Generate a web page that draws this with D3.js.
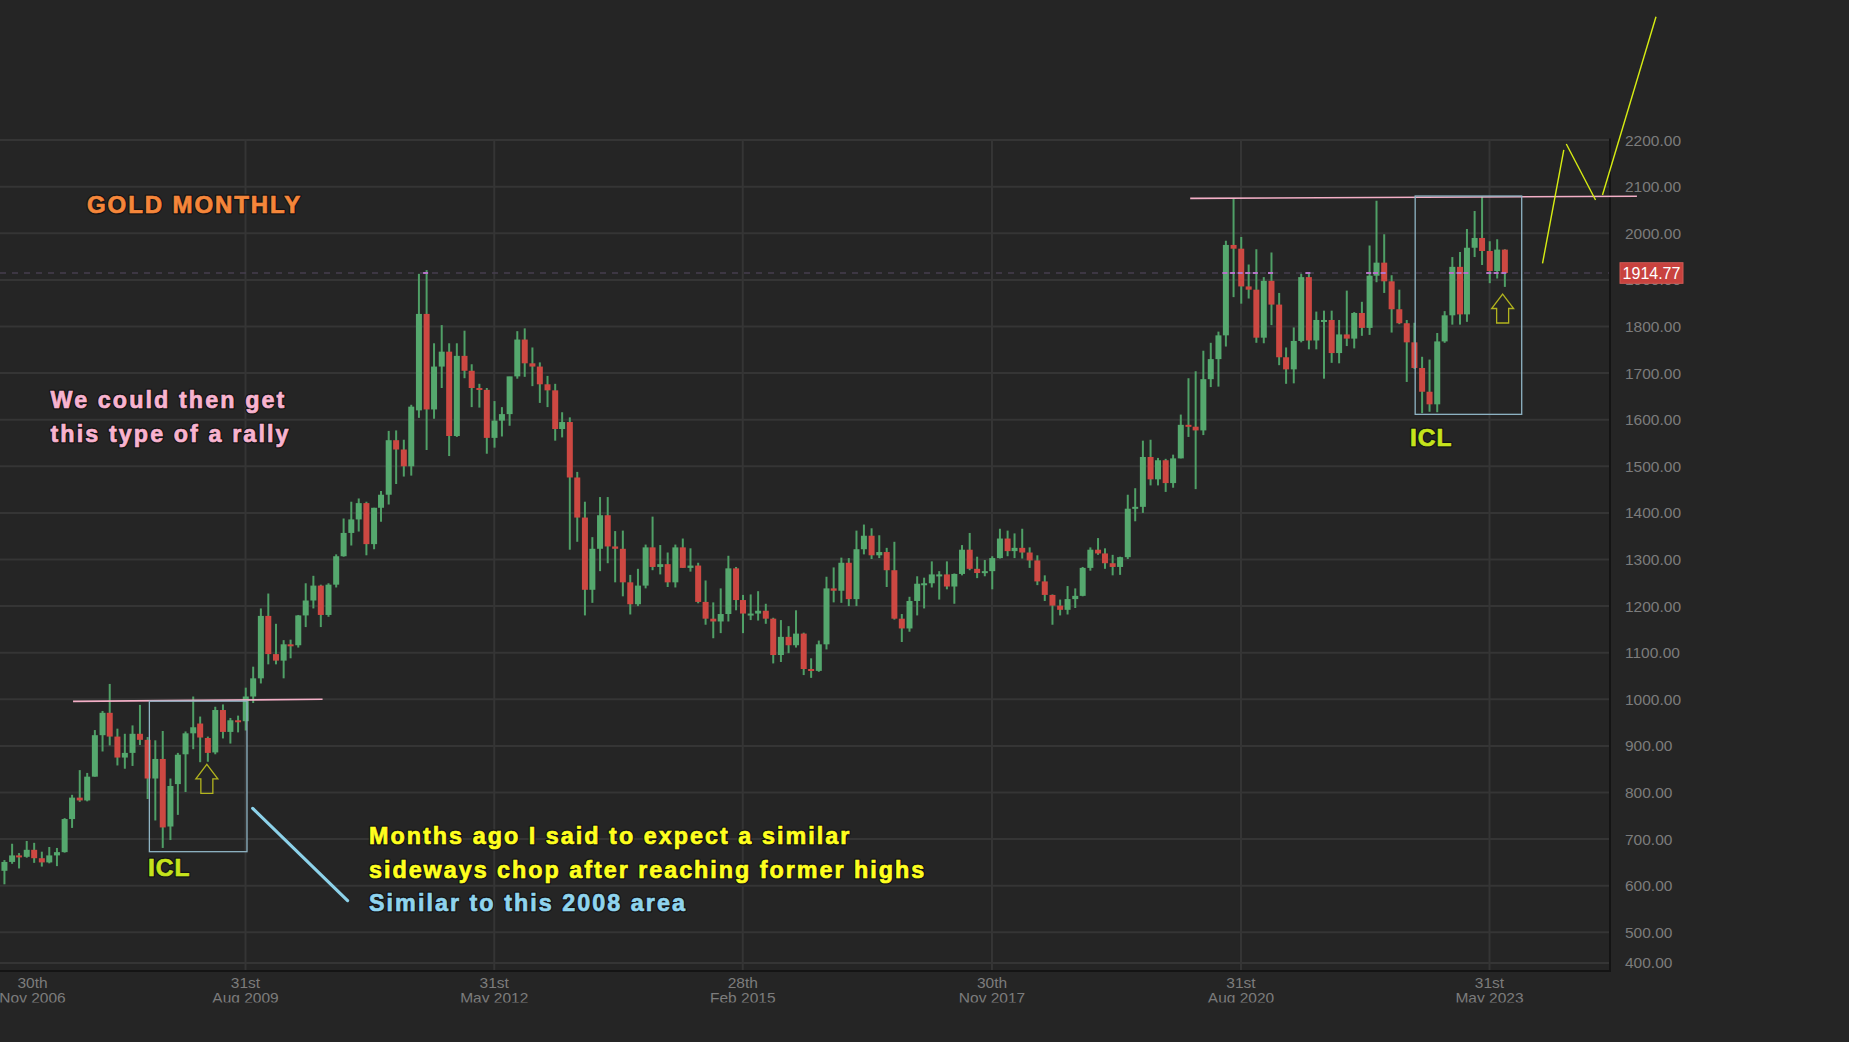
<!DOCTYPE html>
<html><head><meta charset="utf-8">
<script src="https://cdnjs.cloudflare.com/ajax/libs/d3/7.8.5/d3.min.js"></script>
<style>html,body{margin:0;padding:0;background:#252525;overflow:hidden}</style>
</head><body>
<svg id="chart" width="1849" height="1042"></svg>
<script>
// ---------------- DATA (monthly XAU/USD candles, Dec 2006 .. Aug 2023) ----------------
const firstMonth = "2006-12-01";
const opens = [
646,
632,651,665,662,677,659,650,665,672,743,789,783,
834,923,971,920,875,885,926,913,830,872,727,818,
882,927,948,917,886,977,930,955,953,1006,1045,1179,
1097,1083,1118,1116,1180,1212,1244,1181,1246,1307,1357,1386,
1421,1333,1411,1439,1556,1536,1500,1620,1827,1622,1714,1746,
1565,1737,1705,1668,1664,1561,1598,1612,1693,1772,1721,1714,
1676,1663,1580,1595,1476,1390,1235,1323,1395,1328,1323,1251,
1204,1244,1326,1284,1290,1251,1326,1282,1287,1209,1173,1167,
1183,1281,1213,1184,1184,1190,1173,1095,1134,1116,1141,1065,
1061,1118,1238,1233,1293,1215,1322,1351,1309,1316,1277,1173,
1152,1211,1248,1249,1268,1268,1242,1269,1321,1280,1271,1275,
1303,1345,1318,1325,1315,1298,1253,1224,1201,1192,1215,1222,
1282,1321,1313,1292,1284,1305,1409,1413,1520,1472,1513,1464,
1517,1589,1585,1577,1687,1730,1781,1975,1967,1886,1879,1776,
1898,1847,1734,1708,1769,1906,1770,1814,1814,1743,1783,1774,
1829,1797,1909,1937,1897,1837,1807,1766,1711,1660,1633,1768,
1824,1928,1826,1969,1990,1962,1919,1965];
const highs = [
650,
655,690,670,696,692,673,683,681,745,795,848,842,
934,975,1033,937,926,944,988,919,912,932,830,885,
931,1006,963,920,984,989,960,965,1025,1070,1195,1227,
1162,1127,1128,1181,1249,1265,1246,1249,1311,1388,1424,1431,
1424,1411,1447,1576,1577,1557,1632,1913,1921,1764,1803,1764,
1764,1791,1719,1677,1668,1640,1627,1692,1790,1796,1755,1723,
1694,1677,1616,1605,1488,1424,1348,1434,1434,1361,1362,1267,
1280,1332,1392,1331,1315,1332,1345,1324,1293,1255,1208,1238,
1308,1284,1224,1225,1232,1205,1175,1170,1157,1191,1143,1088,
1126,1263,1283,1304,1303,1362,1375,1367,1352,1325,1338,1183,
1220,1264,1261,1296,1275,1296,1270,1331,1357,1306,1299,1307,
1366,1362,1356,1366,1326,1309,1266,1225,1214,1243,1238,1284,
1326,1346,1324,1310,1306,1439,1453,1555,1557,1518,1516,1525,
1611,1689,1704,1748,1765,1789,1984,2075,1992,1933,1966,1906,
1959,1872,1755,1798,1913,1916,1832,1834,1834,1814,1877,1831,
1853,1974,2070,1998,1910,1879,1814,1808,1735,1729,1786,1833,
1949,1960,2009,2048,2079,1983,1987,1966];
const lows = [
613,
603,647,637,660,649,641,648,642,671,724,780,781,
834,888,901,858,851,857,902,786,740,681,698,752,
801,893,865,866,882,916,905,929,933,992,1034,1075,
1075,1045,1088,1111,1155,1195,1155,1177,1240,1306,1330,1360,
1309,1322,1381,1418,1462,1478,1480,1604,1535,1602,1668,1522,
1563,1689,1627,1626,1527,1540,1564,1587,1688,1692,1672,1636,
1627,1555,1562,1321,1338,1180,1207,1275,1292,1251,1221,1182,
1200,1238,1277,1268,1241,1240,1282,1274,1206,1160,1131,1142,
1167,1191,1142,1170,1169,1162,1077,1080,1099,1111,1052,1046,
1059,1107,1208,1207,1200,1200,1311,1301,1303,1241,1171,1123,
1145,1180,1195,1240,1214,1236,1205,1266,1277,1260,1264,1236,
1302,1307,1303,1302,1282,1245,1211,1160,1180,1182,1196,1221,
1276,1310,1280,1266,1267,1301,1382,1400,1459,1459,1445,1454,
1517,1563,1451,1567,1670,1671,1757,1863,1849,1860,1765,1764,
1803,1717,1677,1678,1766,1751,1751,1688,1722,1721,1758,1753,
1780,1782,1895,1872,1787,1805,1681,1709,1614,1617,1616,1765,
1804,1804,1810,1949,1932,1893,1903,1885];
const closes = [
632,
651,665,662,677,659,650,665,672,743,789,783,834,
923,971,920,875,885,926,913,830,872,725,814,881,
927,940,918,885,977,930,955,953,1006,1045,1179,1097,
1083,1118,1116,1180,1212,1244,1181,1246,1307,1357,1386,1421,
1333,1411,1439,1556,1536,1500,1628,1827,1622,1714,1746,1565,
1737,1705,1668,1664,1561,1598,1612,1693,1772,1721,1714,1676,
1663,1580,1595,1476,1390,1235,1323,1395,1328,1323,1251,1204,
1244,1326,1284,1290,1251,1326,1282,1287,1209,1173,1167,1183,
1281,1213,1184,1184,1190,1173,1095,1134,1116,1141,1065,1061,
1118,1238,1233,1293,1215,1322,1351,1309,1316,1277,1173,1152,
1211,1248,1249,1268,1268,1242,1269,1321,1280,1271,1275,1303,
1345,1318,1325,1315,1298,1253,1224,1201,1192,1215,1222,1282,
1321,1313,1292,1284,1305,1409,1413,1520,1472,1513,1464,1517,
1589,1585,1577,1687,1730,1781,1975,1967,1886,1879,1776,1898,
1847,1734,1708,1769,1906,1770,1814,1814,1743,1783,1774,1829,
1797,1909,1937,1897,1837,1807,1766,1711,1660,1633,1768,1824,
1928,1826,1969,1990,1962,1919,1965,1914.77];

const lastPrice = 1914.77;
const yTickValues = [400,500,600,700,800,900,1000,1100,1200,1300,1400,1500,1600,1700,1800,1900,2000,2100,2200];
const xTickDates = ["2006-11-30","2009-08-31","2012-05-31","2015-02-28","2017-11-30","2020-08-31","2023-05-31"];
const xTickDayLabels = ["30th","31st","31st","28th","30th","31st","31st"];
const xTickMonthLabels = ["Nov 2006","Aug 2009","May 2012","Feb 2015","Nov 2017","Aug 2020","May 2023"];

// annotations in data units (date, price)
const resistance2008 = [["2007-10-05", 995.5], ["2010-07-08", 1000]];
const resistance2023 = [["2020-02-08", 2075], ["2025-01-15", 2079.4]];
const iclBox2008 = {from: "2008-08-08", to: "2009-09-06", lo: 673, hi: 996};
const iclBox2023 = {from: "2022-08-04", to: "2023-10-08", lo: 1611.5, hi: 2080};
const arrowTips = [["2009-03-28", 860.5], ["2023-07-23", 1869.7]];
const blueLine = [["2009-09-29", 766], ["2010-10-17", 568]];
const projection = [
  [["2023-12-31", 1935.6], ["2024-03-26", 2178.8]],
  [["2024-04-05", 2191.6], ["2024-08-01", 2071.5]],
  [["2024-08-29", 2082.2], ["2025-04-02", 2464.8]]
];
const iclLabels = [["2008-08-02", 621], ["2022-07-14", 1544]];

// ---------------- LAYOUT ----------------
const W = 1849, H = 1042;
const plotRight = 1610, plotTop = 139.5, plotBottom = 971;
const BG = "#252525", GRID = "#353535", AXIS = "#141414";
const UP = "#55a86e", DOWN = "#cd4842", WICK = "#4f9f66";
const FONT = "'Liberation Sans', Arial, sans-serif";

const svg = d3.select("#chart");
svg.append("rect").attr("width", W).attr("height", H).attr("fill", BG);

const P = d3.utcParse("%Y-%m-%d");
const x = d3.scaleUtc().domain([P("2009-08-31"), P("2023-05-31")]).range([245.5, 1489.5]);
const y = d3.scaleLinear().domain([500, 2200]).range([932.3, 140.1]);
const yPos = v => Math.min(y(v), plotBottom - 8);

const months = d3.utcMonth.range(P(firstMonth), d3.utcMonth.offset(P(firstMonth), opens.length));
const candles = months.map((d, i) => ({date: d, o: opens[i], h: highs[i], l: lows[i], c: closes[i]}));

const defs = svg.append("defs");
defs.append("clipPath").attr("id", "plotClip").append("rect")
  .attr("x", 0).attr("y", plotTop - 1).attr("width", plotRight).attr("height", plotBottom - plotTop + 1);
defs.append("clipPath").attr("id", "yLabClip").append("rect")
  .attr("x", plotRight).attr("y", 136).attr("width", W - plotRight).attr("height", H - 136);
defs.append("clipPath").attr("id", "xLabClip").append("rect")
  .attr("x", 0).attr("y", plotBottom).attr("width", plotRight + 40).attr("height", 31.5);

// ---------------- GRID ----------------
const grid = svg.append("g");
grid.selectAll("line.h").data(yTickValues).join("line")
  .attr("x1", 0).attr("x2", plotRight)
  .attr("y1", d => yPos(d)).attr("y2", d => yPos(d))
  .attr("stroke", GRID).attr("stroke-width", 2);
grid.selectAll("line.v").data(xTickDates).join("line")
  .attr("x1", d => x(P(d))).attr("x2", d => x(P(d)))
  .attr("y1", plotTop).attr("y2", plotBottom)
  .attr("stroke", GRID).attr("stroke-width", 2);

// ---------------- PRICE LINE ----------------
svg.append("line").attr("x1", 0).attr("x2", plotRight)
  .attr("y1", y(lastPrice)).attr("y2", y(lastPrice))
  .attr("stroke", "#463e4e").attr("stroke-width", 1.5).attr("stroke-dasharray", "6,6");

// ---------------- CANDLES ----------------
const bodyW = 6;
const cg = svg.append("g").attr("clip-path", "url(#plotClip)");
cg.selectAll("line.wick").data(candles).join("line")
  .attr("x1", d => x(d.date)).attr("x2", d => x(d.date))
  .attr("y1", d => y(d.h)).attr("y2", d => y(d.l))
  .attr("stroke", WICK).attr("stroke-width", 2);
cg.selectAll("rect.body").data(candles).join("rect")
  .attr("x", d => x(d.date) - bodyW / 2).attr("width", bodyW)
  .attr("y", d => y(Math.max(d.o, d.c)))
  .attr("height", d => Math.max(2, Math.abs(y(d.o) - y(d.c))))
  .attr("fill", d => d.c >= d.o ? UP : DOWN);
cg.selectAll("line.pl").data(candles.filter(d => d.l <= lastPrice && d.h >= lastPrice)).join("line")
  .attr("x1", d => x(d.date) - 3.5).attr("x2", d => x(d.date) + 3.5)
  .attr("y1", y(lastPrice)).attr("y2", y(lastPrice))
  .attr("stroke", "#b673c8").attr("stroke-width", 2).attr("stroke-dasharray", "5,3");

// ---------------- AXES ----------------
svg.append("line").attr("x1", 0).attr("x2", plotRight).attr("y1", plotBottom).attr("y2", plotBottom)
  .attr("stroke", AXIS).attr("stroke-width", 2);
svg.append("line").attr("x1", plotRight).attr("x2", plotRight).attr("y1", plotTop - 1).attr("y2", plotBottom + 1)
  .attr("stroke", AXIS).attr("stroke-width", 2);

const yAxis = d3.axisRight(y).tickValues(yTickValues).tickFormat(d3.format(".2f")).tickSize(0).tickPadding(0);
const ygWrap = svg.append("g").attr("clip-path", "url(#yLabClip)");
const yg = ygWrap.append("g").call(yAxis);
yg.select(".domain").remove();
yg.selectAll(".tick").attr("transform", d => `translate(${plotRight + 15},${yPos(d)})`);
yg.selectAll("text").attr("fill", "#7c7c7c").attr("font-size", 15.5).attr("font-family", FONT)
  .attr("dy", "0.35em").attr("x", 0).attr("text-anchor", "start");

const xAxis = d3.axisBottom(x).tickValues(xTickDates.map(P)).tickSize(0).tickFormat("");
const xg = svg.append("g").attr("transform", `translate(0,${plotBottom})`).call(xAxis);
xg.select(".domain").remove();
const xLab = svg.append("g").attr("clip-path", "url(#xLabClip)");
xTickDates.forEach((d, i) => {
  const cx = Math.max(x(P(d)), 32.5);
  const t = xLab.append("text").attr("text-anchor", "middle").attr("fill", "#7c7c7c")
    .attr("font-size", 15.5).attr("font-family", FONT);
  t.append("tspan").attr("x", cx).attr("y", 987.7).text(xTickDayLabels[i]);
  t.append("tspan").attr("x", cx).attr("y", 1002.7).text(xTickMonthLabels[i]);
});

// last price label
const lp = svg.append("g").attr("transform", `translate(0,${y(lastPrice)})`);
lp.append("rect").attr("x", 1620).attr("y", -10.3).attr("width", 63).attr("height", 20.6)
  .attr("fill", "#c8423e").attr("stroke", "#d25a55").attr("stroke-width", 1);
lp.append("text").attr("x", 1651.5).attr("y", 0).attr("dy", "0.36em").attr("text-anchor", "middle")
  .attr("fill", "#ffffff").attr("font-size", 16).attr("font-family", FONT).text(lastPrice.toFixed(2));

// ---------------- ANNOTATIONS ----------------
const line = d3.line().x(d => x(P(d[0]))).y(d => y(d[1]));
[resistance2008, resistance2023].forEach(r => {
  svg.append("path").attr("d", line(r)).attr("fill", "none").attr("stroke", "#f3afc6").attr("stroke-width", 1.6);
});
[iclBox2008, iclBox2023].forEach(b => {
  svg.append("rect").attr("x", x(P(b.from))).attr("y", y(b.hi))
    .attr("width", x(P(b.to)) - x(P(b.from))).attr("height", y(b.lo) - y(b.hi))
    .attr("fill", "none").attr("stroke", "#8fb4c4").attr("stroke-width", 1.3);
});
arrowTips.forEach(a => {
  const tx = x(P(a[0])), ty = y(a[1]);
  const pts = [[0,0],[11,14.5],[6,14.5],[6,29],[-6,29],[-6,14.5],[-11,14.5]].map(p => [tx + p[0], ty + p[1]]);
  svg.append("polygon").attr("points", pts.map(p => p.join(",")).join(" "))
    .attr("fill", "none").attr("stroke", "#b2b41e").attr("stroke-width", 1.3);
});
svg.append("path").attr("d", line(blueLine)).attr("stroke", "#8dd2ea").attr("stroke-width", 3.2)
  .attr("stroke-linecap", "round").attr("fill", "none");
projection.forEach(seg => {
  svg.append("path").attr("d", line(seg)).attr("stroke", "#d6ec12").attr("stroke-width", 1.4).attr("fill", "none");
});

function label(txt, px, py, color, size, ls) {
  const g = svg.append("g");
  g.append("text").attr("x", px).attr("y", py).attr("fill", "#141414")
    .attr("font-family", FONT).attr("font-weight", "bold").attr("font-size", size)
    .attr("letter-spacing", ls).attr("stroke", "#141414").attr("stroke-width", 3.2)
    .attr("stroke-linejoin", "round").text(txt);
  g.append("text").attr("x", px).attr("y", py).attr("fill", color)
    .attr("font-family", FONT).attr("font-weight", "bold").attr("font-size", size)
    .attr("letter-spacing", ls).attr("stroke", color).attr("stroke-width", 0.7).text(txt);
}
label("GOLD MONTHLY", 87, 212.5, "#f5863a", 24, 1.9);
label("We could then get", 50.5, 408.3, "#f8b3cf", 23.3, 2.1);
label("this type of a rally", 50.5, 441.7, "#f8b3cf", 23.3, 2.1);
label("Months ago I said to expect a similar", 369, 844, "#ffff1e", 23.3, 2.05);
label("sideways chop after reaching former highs", 369, 878, "#ffff1e", 23.3, 2.0);
label("Similar to this 2008 area", 369, 911, "#8fd4ee", 23.3, 2.05);
iclLabels.forEach(l => {
  label("ICL", x(P(l[0])), y(l[1]), "#c6e41c", 24.5, 1);
});
</script>
</body></html>
